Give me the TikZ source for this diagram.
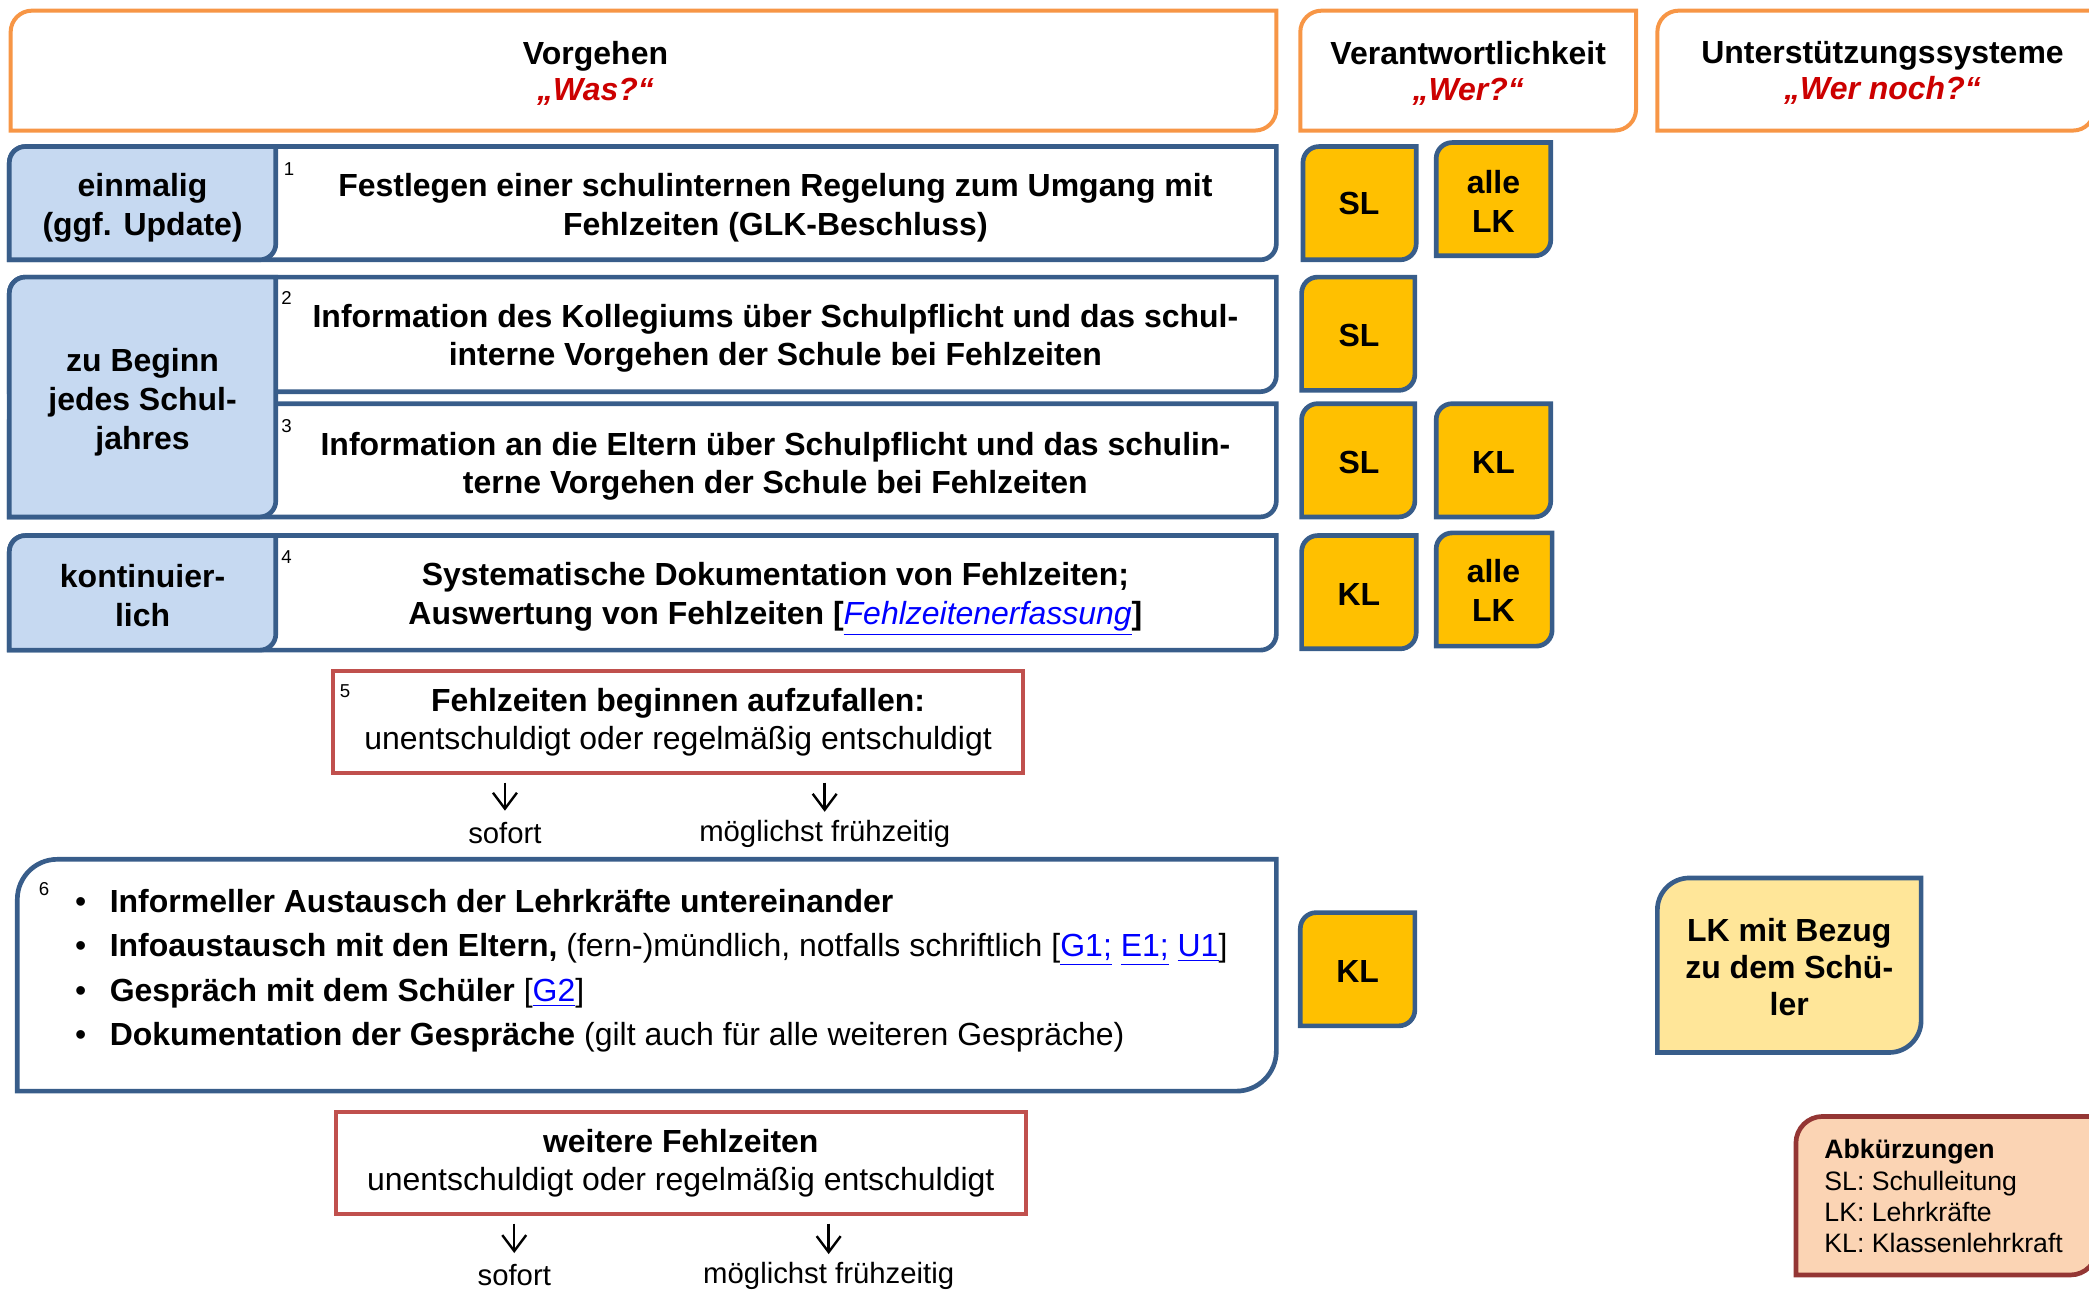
\documentclass[tikz,border=0pt]{standalone}
\usepackage{fontspec}
\setmainfont{Liberation Sans}
\usetikzlibrary{arrows.meta,calc}
\definecolor{hdrorange}{HTML}{F79646}
\definecolor{boxblue}{HTML}{385D8A}
\definecolor{cellblue}{HTML}{C6D9F1}
\definecolor{whoyellow}{HTML}{FFC000}
\definecolor{lkyellow}{HTML}{FFE699}
\definecolor{boxred}{HTML}{C0504D}
\definecolor{abkfill}{HTML}{FBD4B4}
\definecolor{abkred}{HTML}{943634}
\definecolor{wasred}{HTML}{CC0000}
\definecolor{linkblue}{HTML}{0000FF}
\tikzstyle{txt}=[align=center, inner sep=0pt, font=\fontsize{12}{14.5}\selectfont\bfseries]
\tikzstyle{hdrtxt}=[align=center, inner sep=0pt, font=\fontsize{12}{13.5}\selectfont\bfseries]
\tikzstyle{num}=[inner sep=0pt, font=\fontsize{7}{8}\selectfont]
\tikzstyle{lbl}=[inner sep=0pt, font=\fontsize{11}{13}\selectfont]
\tikzstyle{point}=[anchor=base west, inner sep=0pt, font=\fontsize{12}{14}\selectfont]
\tikzstyle{hdr}=[draw=hdrorange, line width=1.5pt, fill=white]
\tikzstyle{bluebox}=[draw=boxblue, line width=1.75pt, fill=white]
\tikzstyle{cell}=[draw=boxblue, line width=1.75pt, fill=cellblue]
\tikzstyle{who}=[draw=boxblue, line width=1.75pt, fill=whoyellow]
\tikzstyle{redbox}=[draw=boxred, line width=1.5pt, fill=white, align=center, minimum width=259pt, minimum height=38pt, inner sep=0pt, font=\fontsize{12}{14}\selectfont]
\tikzstyle{arr}=[-{Straight Barb[length=6pt,width=9pt]}, line width=0.9pt]
% box with round top-left and bottom-right corners
\newcommand\cornerbox[6]{%
  \draw[#1] (#2,{(#3+#5)/2}) [rounded corners=#6] -- (#2,#3) -- ({(#2+#4)/2},#3)
    [sharp corners] -- (#4,#3) -- (#4,{(#3+#5)/2})
    [rounded corners=#6] -- (#4,#5) -- ({(#2+#4)/2},#5)
    [sharp corners] -- (#2,#5) -- cycle;}
\newcommand\lnk[1]{{\color{linkblue}\underline{#1}}}

\begin{document}
\begin{tikzpicture}[x=0.5pt, y=-0.5pt]
\useasboundingbox (0,0) rectangle (1568,968);
\clip (0,0) rectangle (1568,968);
% Headers
  \cornerbox{hdr}{8}{8}{958}{98}{8pt}
  \cornerbox{hdr}{976}{8}{1228}{98}{8pt}
  \cornerbox{hdr}{1244}{8}{1572}{98}{8pt}
  \node[hdrtxt] (was) at (447,55) {Vorgehen\\{\color{wasred}\itshape „Was?“}};
  \node[hdrtxt] (wer) at (1102,55) {Verantwortlichkeit\\{\color{wasred}\itshape „Wer?“}};
  \node[hdrtxt] (wernoch) at (1413,55) {Unterstützungssysteme\\{\color{wasred}\itshape „Wer noch?“}};
% Rows
  \cornerbox{bluebox}{7}{110}{958}{195}{6pt}
  \cornerbox{cell}{7}{110}{207}{195}{6pt}
  \cornerbox{bluebox}{7}{208}{958}{294}{6pt}
  \cornerbox{bluebox}{7}{303}{958}{388}{6pt}
  \cornerbox{cell}{7}{208}{207}{388}{6pt}
  \cornerbox{bluebox}{7}{402}{958}{488}{6pt}
  \cornerbox{cell}{7}{402}{207}{488}{6pt}
  \node[txt] (when1) at (107,156) {einmalig\\(ggf. Update)};
  \node[txt] (when2) at (107,302) {zu Beginn\\jedes Schul-\\jahres};
  \node[txt] (when4) at (107,447) {kontinuier-\\lich};
  \node[num] (n1) at (217,127) {1};
  \node[num] (n2) at (215,224) {2};
  \node[num] (n3) at (215,320) {3};
  \node[num] (n4) at (215,418) {4};
  \node[txt] (step1) at (582,156) {Festlegen einer schulinternen Regelung zum Umgang mit\\Fehlzeiten (GLK-Beschluss)};
  \node[txt] (step2) at (582,254) {Information des Kollegiums über Schulpflicht und das schul-\\interne Vorgehen der Schule bei Fehlzeiten};
  \node[txt] (step3) at (582,350) {Information an die Eltern über Schulpflicht und das schulin-\\terne Vorgehen der Schule bei Fehlzeiten};
  \node[txt] (step4) at (582,450) {Systematische Dokumentation von Fehlzeiten;\\Auswertung von Fehlzeiten [\lnk{\mdseries\itshape Fehlzeitenerfassung}]};
% Verantwortlichkeit
  \cornerbox{who}{978}{110}{1063}{195}{6pt}
  \cornerbox{who}{1078}{107}{1164}{192}{6pt}
  \cornerbox{who}{977}{208}{1062}{293}{6pt}
  \cornerbox{who}{977}{303}{1062}{388}{6pt}
  \cornerbox{who}{1078}{303}{1164}{388}{6pt}
  \cornerbox{who}{977}{402}{1063}{487}{6pt}
  \cornerbox{who}{1078}{400}{1165}{485}{6pt}
  \cornerbox{who}{976}{685}{1062}{770}{6pt}
  \node[txt] (sl1) at (1020,153) {SL};
  \node[txt] (lk1) at (1121,151) {alle\\LK};
  \node[txt] (sl2) at (1020,252) {SL};
  \node[txt] (sl3) at (1020,347) {SL};
  \node[txt] (kl3) at (1121,347) {KL};
  \node[txt] (kl4) at (1020,446) {KL};
  \node[txt] (lk4) at (1121,443) {alle\\LK};
  \node[txt] (kl6) at (1019,729) {KL};
% Fehlzeiten
  \node[redbox] (f5) at (509,542) {\textbf{Fehlzeiten beginnen aufzufallen:}\\unentschuldigt oder regelmäßig entschuldigt};
  \node[num] (n5) at (259,519) {5};
  \node[lbl] (s5) at (379,625) {sofort};
  \node[lbl] (m5) at (619,626) {möglichst frühzeitig};
  \draw[arr] ($(f5.south -| s5.north)+(0,6)$) -- ([yshift=4pt]s5.north);
  \draw[arr] ($(f5.south -| m5.north)+(0,6)$) -- ([yshift=3pt]m5.north);
% Massnahmen
  \cornerbox{bluebox}{13}{645}{958}{819}{15pt}
  \node[num] (n6) at (33,667) {6};
  \node[point] (p1) at (56,685) {\makebox[13pt][l]{\textbullet}\textbf{Informeller Austausch der Lehrkräfte untereinander}};
  \node[point] (p2) at (56,718) {\makebox[13pt][l]{\textbullet}\textbf{Infoaustausch mit den Eltern,} (fern-)mündlich, notfalls schriftlich [\lnk{G1;} \lnk{E1;} \lnk{U1}]};
  \node[point] (p3) at (56,752) {\makebox[13pt][l]{\textbullet}\textbf{Gespräch mit dem Schüler} [\lnk{G2}]};
  \node[point] (p4) at (56,785) {\makebox[13pt][l]{\textbullet}\textbf{Dokumentation der Gespräche} (gilt auch für alle weiteren Gespräche)};
  \node[redbox] (f7) at (511,873) {\textbf{weitere Fehlzeiten}\\unentschuldigt oder regelmäßig entschuldigt};
  \node[lbl] (s7) at (386,957) {sofort};
  \node[lbl] (m7) at (622,958) {möglichst frühzeitig};
  \draw[arr] ($(f7.south -| s7.north)+(0,6)$) -- ([yshift=4pt]s7.north);
  \draw[arr] ($(f7.south -| m7.north)+(0,6)$) -- ([yshift=3pt]m7.north);
% Unterstuetzung
  \cornerbox{bluebox, fill=lkyellow}{1244}{659}{1442}{790}{12pt}
  \node[txt, font=\fontsize{12}{14}\selectfont\bfseries] (lkbezug) at (1343,726) {LK mit Bezug\\zu dem Schü-\\ler};
% Abkuerzungen
  \cornerbox{draw=abkred, line width=1.75pt, fill=abkfill}{1348}{838}{1574}{957}{10pt}
  \node[anchor=north west, align=left, inner sep=0pt, font=\fontsize{10}{11.7}\selectfont] (abk) at (1369,855)
    {\textbf{Abkürzungen}\\SL: Schulleitung\\LK: Lehrkräfte\\KL: Klassenlehrkraft};
\end{tikzpicture}
\end{document}
